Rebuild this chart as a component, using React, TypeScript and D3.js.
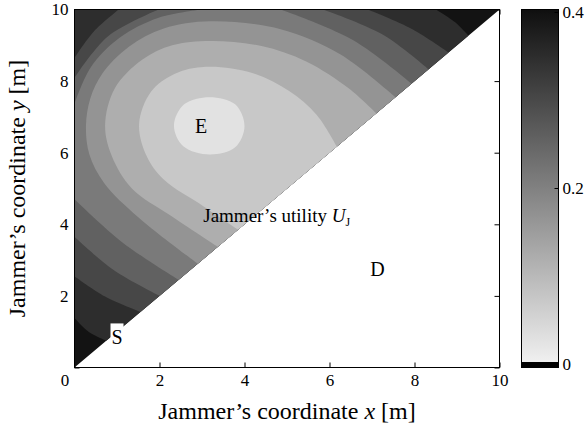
import React, { useRef, useEffect } from 'react';
import * as d3 from 'd3';

const xTicks = [0, 2, 4, 6, 8, 10];
const yTicks = [0, 2, 4, 6, 8, 10];
const colorbarTicks = [0, 0.2, 0.4];

// utility value of each grey band, from E outwards to the corners
const bandValues = [0.025, 0.071, 0.117, 0.163, 0.209, 0.255, 0.301, 0.347, 0.393];

// contour lines, [x, y] in metres
const contourE = [[3.18, 7.55], [3.78, 7.35], [4.0, 6.74], [3.78, 6.15], [3.18, 5.95], [2.56, 6.18], [2.34, 6.76], [2.58, 7.35]];
const contour2 = [[[3.85, 3.85], [3.04, 4.5], [2.1, 5.25], [1.7, 5.9], [1.52, 6.8], [1.8, 7.7], [2.35, 8.2], [3.1, 8.4], [4.2, 8.22], [5.05, 7.72], [5.7, 7.05], [6.17, 6.17]]];
const contour3 = [[[3.37, 3.37], [2.25, 4.25], [1.35, 5.0], [0.88, 5.9], [0.72, 6.76], [0.95, 7.8], [1.6, 8.6], [2.3, 9.0], [3.2, 9.12], [4.4, 8.98], [5.45, 8.55], [6.45, 7.8], [7.1, 7.1]]];
const contour4 = [[[2.9, 2.9], [1.5, 4.2], [0.7, 5.15], [0.35, 5.95], [0.27, 6.75], [0.37, 7.51], [0.66, 8.22], [1.28, 8.96], [2.1, 9.47], [3.2, 9.67], [4.85, 9.45], [6.25, 8.75], [7.55, 7.55]]];
const contour5 = [
  [[2.45, 2.45], [1.12, 3.5], [0, 4.7]],
  [[0, 7.37], [0.38, 8.38], [1.06, 9.21], [1.98, 9.77], [3.0, 10]],
  [[4.85, 10], [6.55, 9.15], [7.93, 7.93]],
];
const contour6 = [
  [[2.0, 2.0], [0.92, 2.72], [0, 3.65]],
  [[0, 8.09], [0.79, 9.25], [1.98, 10]],
  [[5.85, 10], [7.25, 9.3], [8.33, 8.33]],
];
const contour7 = [
  [[1.55, 1.55], [0.72, 1.98], [0, 2.55]],
  [[0, 8.65], [0.45, 9.38], [1.04, 10]],
  [[6.9, 10], [7.95, 9.45], [8.8, 8.8]],
];
const contour8 = [
  [[0.75, 0.75], [0.33, 1.0], [0, 1.38]],
  [[8.5, 10], [8.95, 9.65], [9.27, 9.27]],
];

const pointLabels = [
  { name: 'E', x: 2.98, y: 6.75 },
  { name: 'S', x: 1.0, y: 0.84 },
  { name: 'D', x: 7.13, y: 2.74 },
];

function App() {
  const ref = useRef<SVGSVGElement>(null);

  useEffect(() => {
    draw();
  }, []);

  function draw() {
    const svg = d3.select(ref.current);
    svg.selectAll('*').remove();

    const x = d3.scaleLinear().domain([0, 10]).range([74.5, 499.5]);
    const y = d3.scaleLinear().domain([0, 10]).range([367.5, 9.5]);
    const color = d3.scaleLinear<string>().domain([0, 0.4]).range(['#f0f0f0', '#0f0f0f']);
    const cb = d3.scaleLinear().domain([0, 0.4]).range([364, 12]);
    const font = 'Liberation Serif, Times New Roman, serif';

    const smooth = d3.line<number[]>()
      .x(d => x(d[0]))
      .y(d => y(d[1]))
      .curve(d3.curveCatmullRom);

    // route from the end of one visible piece to the start of the next, outside the triangle
    function outsideLink(a: number[], b: number[]) {
      if (a[0] === 0) {
        return b[0] === 0 ? [[-1, a[1]], [-1, b[1]]] : [[-1, a[1]], [-1, 11], [b[0], 11]];
      }
      if (a[1] === 10) return [[a[0], 11], [b[0], 11]];
      return [[a[0] + 0.6, a[1] - 0.6], [b[0] + 0.6, b[1] - 0.6]];
    }

    function regionPath(segs: number[][][]) {
      let d = '';
      segs.forEach((seg, i) => {
        const next = segs[(i + 1) % segs.length];
        const s = smooth(seg) || '';
        d += i === 0 ? s : s.replace(/^M/, 'L');
        outsideLink(seg[seg.length - 1], next[0]).forEach(p => {
          d += 'L' + x(p[0]) + ',' + y(p[1]);
        });
      });
      return d + 'Z';
    }

    // ticks, under the data like MATLAB's default layer
    const axes = [
      svg.append('g').attr('transform', 'translate(0,367.5)')
        .call(d3.axisBottom(x).tickValues(xTicks).tickSize(-5).tickPadding(6)),
      svg.append('g').attr('transform', 'translate(0,9.5)')
        .call(d3.axisTop(x).tickValues(xTicks).tickSize(-5).tickFormat(() => '')),
      svg.append('g').attr('transform', 'translate(74.5,0)')
        .call(d3.axisLeft(y).tickValues(yTicks).tickSize(-5).tickPadding(6)
          .tickFormat(d => (d === 0 ? '' : String(d)))),
      svg.append('g').attr('transform', 'translate(499.5,0)')
        .call(d3.axisRight(y).tickValues(yTicks).tickSize(-5).tickFormat(() => '')),
    ];
    axes.forEach(g => {
      g.select('.domain').remove();
      g.attr('font-family', font).attr('font-size', 17);
    });
    axes[0].selectAll('text').filter(d => d === 0).attr('dx', -10);

    // filled contours
    const defs = svg.append('defs');
    defs.append('clipPath').attr('id', 'tri')
      .append('path')
      .attr('d', `M${x(0)},${y(0)}L${x(0)},${y(10)}L${x(10)},${y(10)}Z`);

    const plot = svg.append('g').attr('clip-path', 'url(#tri)');
    plot.append('rect')
      .attr('x', x(0) - 2).attr('y', y(10) - 2)
      .attr('width', x(10) - x(0) + 4).attr('height', y(0) - y(10) + 4)
      .attr('fill', color(bandValues[8]));

    const boundaries = [contour8, contour7, contour6, contour5, contour4, contour3, contour2];
    boundaries.forEach((segs, i) => {
      plot.append('path')
        .attr('d', regionPath(segs))
        .attr('fill', color(bandValues[7 - i]));
    });
    plot.append('path')
      .attr('d', d3.line<number[]>().x(d => x(d[0])).y(d => y(d[1])).curve(d3.curveCatmullRomClosed)(contourE))
      .attr('fill', color(bandValues[0]));

    svg.append('rect')
      .attr('x', x(0)).attr('y', y(10))
      .attr('width', x(10) - x(0)).attr('height', y(0) - y(10))
      .attr('fill', 'none').attr('stroke', '#000');

    // point labels
    pointLabels.forEach(p => {
      if (p.name === 'S') {
        svg.append('rect')
          .attr('x', x(p.x) - 6.5).attr('y', y(p.y) - 14)
          .attr('width', 13).attr('height', 26).attr('fill', '#fff');
      }
      svg.append('text')
        .attr('x', x(p.x)).attr('y', y(p.y)).attr('dy', '0.35em')
        .attr('text-anchor', 'middle')
        .attr('font-family', font).attr('font-size', 20)
        .text(p.name);
    });

    const title = svg.append('text')
      .attr('x', x(3.03)).attr('y', y(4.24)).attr('dy', '0.35em')
      .attr('font-family', font).attr('font-size', 19);
    title.append('tspan').text('Jammer\u2019s utility ');
    title.append('tspan').attr('font-style', 'italic').text('U');
    title.append('tspan').attr('font-size', 12).attr('dy', 4).text('J');

    // axis titles
    const xt = svg.append('text')
      .attr('x', (x(0) + x(10)) / 2).attr('y', 419)
      .attr('text-anchor', 'middle')
      .attr('font-family', font).attr('font-size', 24);
    xt.append('tspan').text('Jammer\u2019s coordinate ');
    xt.append('tspan').attr('font-style', 'italic').text('x');
    xt.append('tspan').text(' [m]');

    const yt = svg.append('text')
      .attr('transform', `translate(25,${(y(0) + y(10)) / 2}) rotate(-90)`)
      .attr('text-anchor', 'middle')
      .attr('font-family', font).attr('font-size', 24);
    yt.append('tspan').text('Jammer\u2019s coordinate ');
    yt.append('tspan').attr('font-style', 'italic').text('y');
    yt.append('tspan').text(' [m]');

    // colorbar
    const grad = defs.append('linearGradient').attr('id', 'cbar')
      .attr('x1', 0).attr('y1', 1).attr('x2', 0).attr('y2', 0);
    grad.append('stop').attr('offset', 0).attr('stop-color', color(0));
    grad.append('stop').attr('offset', 1).attr('stop-color', color(0.4));

    svg.append('rect')
      .attr('x', 521.5).attr('y', 9.5).attr('width', 37).attr('height', 353)
      .attr('fill', 'url(#cbar)');
    svg.append('rect')
      .attr('x', 521.5).attr('y', 362).attr('width', 37).attr('height', 5.5)
      .attr('fill', '#000');
    svg.append('rect')
      .attr('x', 521.5).attr('y', 9.5).attr('width', 37).attr('height', 358)
      .attr('fill', 'none').attr('stroke', '#000');

    const cbAxis = svg.append('g').attr('transform', 'translate(558.5,0)')
      .call(d3.axisRight(cb).tickValues(colorbarTicks).tickSize(-4).tickPadding(4)
        .tickFormat(d => String(d)));
    cbAxis.select('.domain').remove();
    cbAxis.attr('font-family', font).attr('font-size', 17);
  }

  return (
    <div style={{ position: 'absolute', left: 0, top: 0 }}>
      <svg ref={ref} width={585} height={428} style={{ display: 'block', background: '#fff' }} />
    </div>
  );
}

export default App;
